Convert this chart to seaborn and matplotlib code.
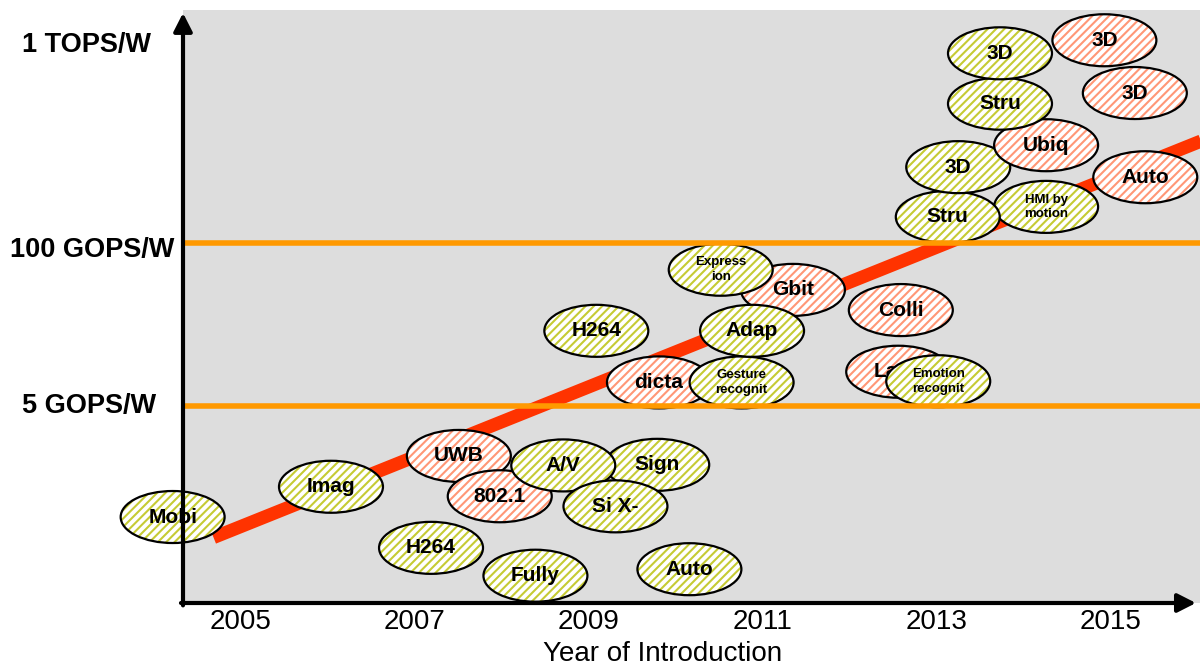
import matplotlib
matplotlib.use("Agg")
import matplotlib.pyplot as plt
from matplotlib.patches import Ellipse
import numpy as np
import pandas as pd
import seaborn as sns

# Application bubbles: label, year of introduction, energy-efficiency level
# (schematic 0-100 scale) and group (green = existing, red = emerging)
tech_labels = ["Mobi", "Imag", "UWB", "802.1", "H264", "Fully", "Sign", "A/V", "Si X-", "Auto",
               "H264", "dicta", "Gesture\nrecognit", "Gbit", "Adap", "Express\nion",
               "Colli", "Lane", "Emotion\nrecognit", "HMI by\nmotion", "Stru", "3D", "Ubiq",
               "Stru", "Auto", "3D", "3D", "3D"]
intro_years = [2004.22, 2006.04, 2007.51, 2007.98, 2007.19, 2008.39, 2009.79, 2008.71, 2009.31, 2010.16,
               2009.09, 2009.81, 2010.76, 2011.35, 2010.88, 2010.52,
               2012.59, 2012.56, 2013.02, 2014.26, 2013.13, 2013.25, 2014.26,
               2013.73, 2015.40, 2013.73, 2014.93, 2015.28]
efficiency_levels = [14.5, 19.6, 24.8, 18.0, 9.3, 4.6, 23.3, 23.2, 16.3, 5.7,
                     45.9, 37.2, 37.2, 52.8, 45.9, 56.2,
                     49.4, 39.0, 37.4, 66.8, 65.1, 73.5, 77.2,
                     84.2, 71.8, 92.7, 94.9, 86.0]
groups = ["green", "green", "red", "red", "green", "green", "green", "green", "green", "green",
          "green", "red", "green", "red", "green", "green",
          "red", "red", "green", "green", "green", "green", "red",
          "green", "red", "green", "red", "red"]

# Efficiency trend line
trend_years = [2004.69, 2016.16]
trend_levels = [11.05, 78.6]

# Reference efficiency levels
level_names = ["5 GOPS/W", "100 GOPS/W", "1 TOPS/W"]
level_values = [33.2, 60.7, 94.1]
year_ticks = [2005, 2007, 2009, 2011, 2013, 2015]

sns.set_style("white")
plt.rcParams["font.family"] = ["Liberation Sans", "DejaVu Sans"]
plt.rcParams["text.color"] = "black"
plt.rcParams["xtick.color"] = "black"
plt.rcParams["xtick.labelcolor"] = "black"
plt.rcParams["hatch.linewidth"] = 1.5

stripe_colors = {"green": "#c6cb34", "red": "#ff9776"}

fig = plt.figure(figsize=(12, 6.63), dpi=100)
ax = fig.add_axes([0.1525, 0.0905, 0.8475, 0.8944])
ax.set_facecolor("#dddddd")
ax.set_xlim(2004.339, 2016.029)
ax.set_ylim(0, 100)
for s in ax.spines.values():
    s.set_visible(False)

# trend
trend = pd.DataFrame({"year": trend_years, "level": trend_levels})
sns.lineplot(data=trend, x="year", y="level", ax=ax, color="#ff3300", lw=9.5,
             solid_capstyle="butt", zorder=2, legend=False)

# reference lines for 5 GOPS/W and 100 GOPS/W
for v in level_values[:2]:
    ax.axhline(v, color="#ff9900", lw=4, zorder=200)

# bubbles
bw, bh = 1.195, 8.77
for i, (lab, yr, lv, g) in enumerate(zip(tech_labels, intro_years, efficiency_levels, groups)):
    z = 3 + 3 * i
    fill = Ellipse((yr, lv), bw, bh, facecolor="white", edgecolor=stripe_colors[g],
                   hatch="////", lw=0, zorder=z, clip_on=False)
    ax.add_patch(fill)
    outline = Ellipse((yr, lv), bw, bh, facecolor="none", edgecolor="black",
                      lw=1.6, zorder=z + 1, clip_on=False)
    ax.add_patch(outline)
    small = "\n" in lab
    ax.text(yr, lv, lab, ha="center", va="center", fontsize=9.5 if small else 15,
            fontweight="bold", linespacing=1.3, color="black", zorder=z + 2, clip_on=False)

# axis labels on the left
ytrans = ax.get_yaxis_transform()
for name, v in zip(level_names, level_values):
    xoff = -0.170 if name.startswith("100") else -0.1583
    yv = v - 1.2 if name.startswith("100") else v
    ax.text(xoff, yv, name, transform=ytrans, ha="left", va="center",
            fontsize=19.5, fontweight="bold", color="black", clip_on=False)
ax.set_yticks([])

ax.set_xticks(year_ticks)
ax.set_xticklabels([str(y) for y in year_ticks])
ax.tick_params(axis="x", length=0, labelsize=20, pad=4, labelcolor="black")
ax.set_xlabel("")
ax.set_ylabel("")

# axes drawn as arrows
arrow_kw = dict(arrowstyle="-|>,head_length=0.55,head_width=0.28", lw=3, color="black",
                shrinkA=0, shrinkB=0, mutation_scale=20)
ax.annotate("", xy=(0, 0.995), xytext=(0, -0.004), xycoords="axes fraction",
            arrowprops=arrow_kw, annotation_clip=False, zorder=300)
ax.annotate("", xy=(0.996, 0), xytext=(-0.002, 0), xycoords="axes fraction",
            arrowprops=arrow_kw, annotation_clip=False, zorder=300)

fig.text(663 / 1200, 0.003, "Year of Introduction", ha="center", va="baseline",
         fontsize=20, color="black")

fig.savefig("out.png", dpi=100)
